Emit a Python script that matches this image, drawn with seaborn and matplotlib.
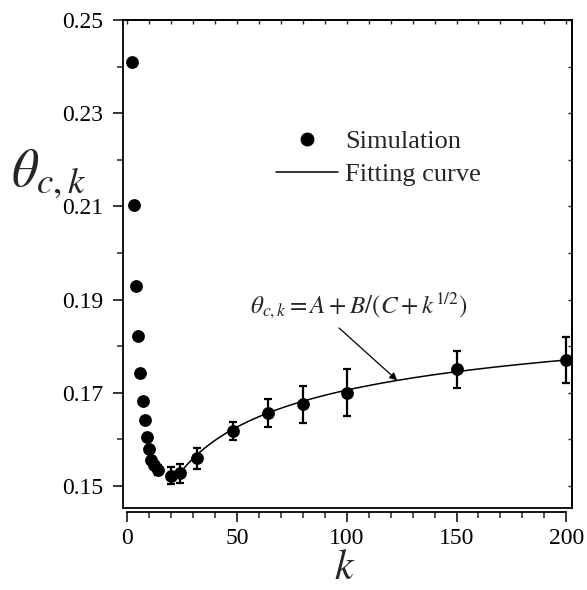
import numpy as np
import pandas as pd
import matplotlib
matplotlib.use('Agg')
import matplotlib.pyplot as plt
import seaborn as sns
from matplotlib.lines import Line2D
from matplotlib.ticker import MultipleLocator, FormatStrFormatter

# ---- data ----
k_values = [2, 3, 4, 5, 6, 7, 8, 9, 10, 11, 12, 14, 20, 24, 32, 48, 64, 80, 100, 150, 200]
theta_values = [0.2410, 0.2103, 0.1930, 0.1821, 0.1742, 0.1682, 0.1642, 0.1606, 0.1579,
                0.1556, 0.1545, 0.1534, 0.1522, 0.1527, 0.1559, 0.1618, 0.1656, 0.1675,
                0.1700, 0.1750, 0.1770]
theta_errors = [0, 0, 0, 0, 0, 0.0005, 0.0005, 0.0005, 0.0005, 0.0005, 0.0008, 0.0010,
                0.0018, 0.0020, 0.0022, 0.0020, 0.0030, 0.0039, 0.0050, 0.0040, 0.0050]

# fitted parameters of theta = A + B/(C + k^(1/2))
fit_A, fit_B, fit_C = 0.1966, -0.3266, 2.546
fit_k_start, fit_k_end = 22, 200

x_major_ticks = [0, 50, 100, 150, 200]
y_major_ticks = [0.15, 0.17, 0.19, 0.21, 0.23, 0.25]

legend_labels = ['Simulation', 'Fitting curve']
equation_text = r'$\theta_{c,k}=A+B/(C+k^{1/2})$'

# ---- style ----
sns.set_style('ticks')
plt.rcParams['font.family'] = ['Liberation Serif', 'DejaVu Serif']
plt.rcParams['mathtext.fontset'] = 'stix'

df = pd.DataFrame({'k': k_values, 'theta': theta_values, 'err': theta_errors})
fit_k = np.linspace(fit_k_start, fit_k_end, 400)
fit_df = pd.DataFrame({'k': fit_k, 'theta': fit_A + fit_B / (fit_C + np.sqrt(fit_k))})

fig = plt.figure(figsize=(5.87, 5.90), dpi=100)
ax = fig.add_axes([123 / 587, 1 - 508.3 / 590, (572 - 123) / 587, (508.3 - 20) / 590])

sns.lineplot(data=fit_df, x='k', y='theta', ax=ax, color='black', lw=1.1, zorder=2)
ax.errorbar(df['k'], df['theta'], yerr=df['err'], fmt='none', ecolor='black',
            elinewidth=1.6, capsize=2.8, capthick=1.6, zorder=3)
sns.scatterplot(data=df, x='k', y='theta', ax=ax, color='black', s=85,
                edgecolor='black', linewidth=0, zorder=4)

ax.set_xlim(-1.9, 202.6)
ax.set_ylim(0.1452, 0.25)
ax.xaxis.set_major_locator(plt.FixedLocator(x_major_ticks))
ax.xaxis.set_minor_locator(MultipleLocator(10))
ax.yaxis.set_major_locator(plt.FixedLocator(y_major_ticks))
ax.yaxis.set_minor_locator(MultipleLocator(0.01))
ax.yaxis.set_major_formatter(FormatStrFormatter('%.2f'))
ax.xaxis.set_major_formatter(FormatStrFormatter('%d'))

for s in ax.spines.values():
    s.set_linewidth(1.3)
    s.set_color('black')
ax.spines['bottom'].set_position(('outward', 3))
ax.spines['bottom'].set_bounds(0, 200)
ax.plot([0, 1], [0, 0], transform=ax.transAxes, color='black', lw=1.3,
        clip_on=False, zorder=5)

ax.tick_params(axis='both', which='major', direction='out', length=7.5, width=1.1,
               labelsize=17, colors='black')
ax.tick_params(axis='y', which='major', pad=7)
ax.tick_params(axis='x', which='major', pad=3.5)
ax.tick_params(axis='both', which='minor', direction='out', length=4, width=1.1)
ax.tick_params(top=False, right=False, which='both')

sec_x = ax.secondary_xaxis('top')
sec_x.xaxis.set_major_locator(MultipleLocator(10))
sec_x.tick_params(direction='in', length=3, width=1.0, labeltop=False)
sec_x.spines['top'].set_linewidth(1.3)
sec_y = ax.secondary_yaxis('right')
sec_y.yaxis.set_major_locator(MultipleLocator(0.01))
sec_y.tick_params(direction='in', length=3, width=1.0, labelright=False)
sec_y.spines['right'].set_linewidth(1.3)

ax.set_xlabel(r'$k$', fontsize=30)
ax.xaxis.set_label_coords(0.494, -0.1458)
ax.xaxis.label.set_va('baseline')
ax.set_ylabel(r'$\theta_{c,k}$', fontsize=38, rotation=0, ha='center', va='center')
ax.yaxis.set_label_coords(-0.165, 0.685)

handles = [Line2D([], [], marker='o', ls='none', color='black', markersize=9),
           Line2D([], [], color='black', lw=1.1)]
ax.legend(handles, legend_labels, loc='upper left', bbox_to_anchor=(0.318, 0.797),
          frameon=False, fontsize=19, handlelength=2.35, handletextpad=0.25,
          labelspacing=0.35, borderaxespad=0)

ax.text(56, 0.1871, equation_text, fontsize=18, ha='left', va='baseline')
ax.annotate('', xy=(123, fit_A + fit_B / (fit_C + np.sqrt(123))), xytext=(96.5, 0.1839),
            arrowprops=dict(arrowstyle='-|>', color='black', lw=0.9, mutation_scale=11,
                            shrinkA=0, shrinkB=0))

fig.savefig('out.png', dpi=100)
